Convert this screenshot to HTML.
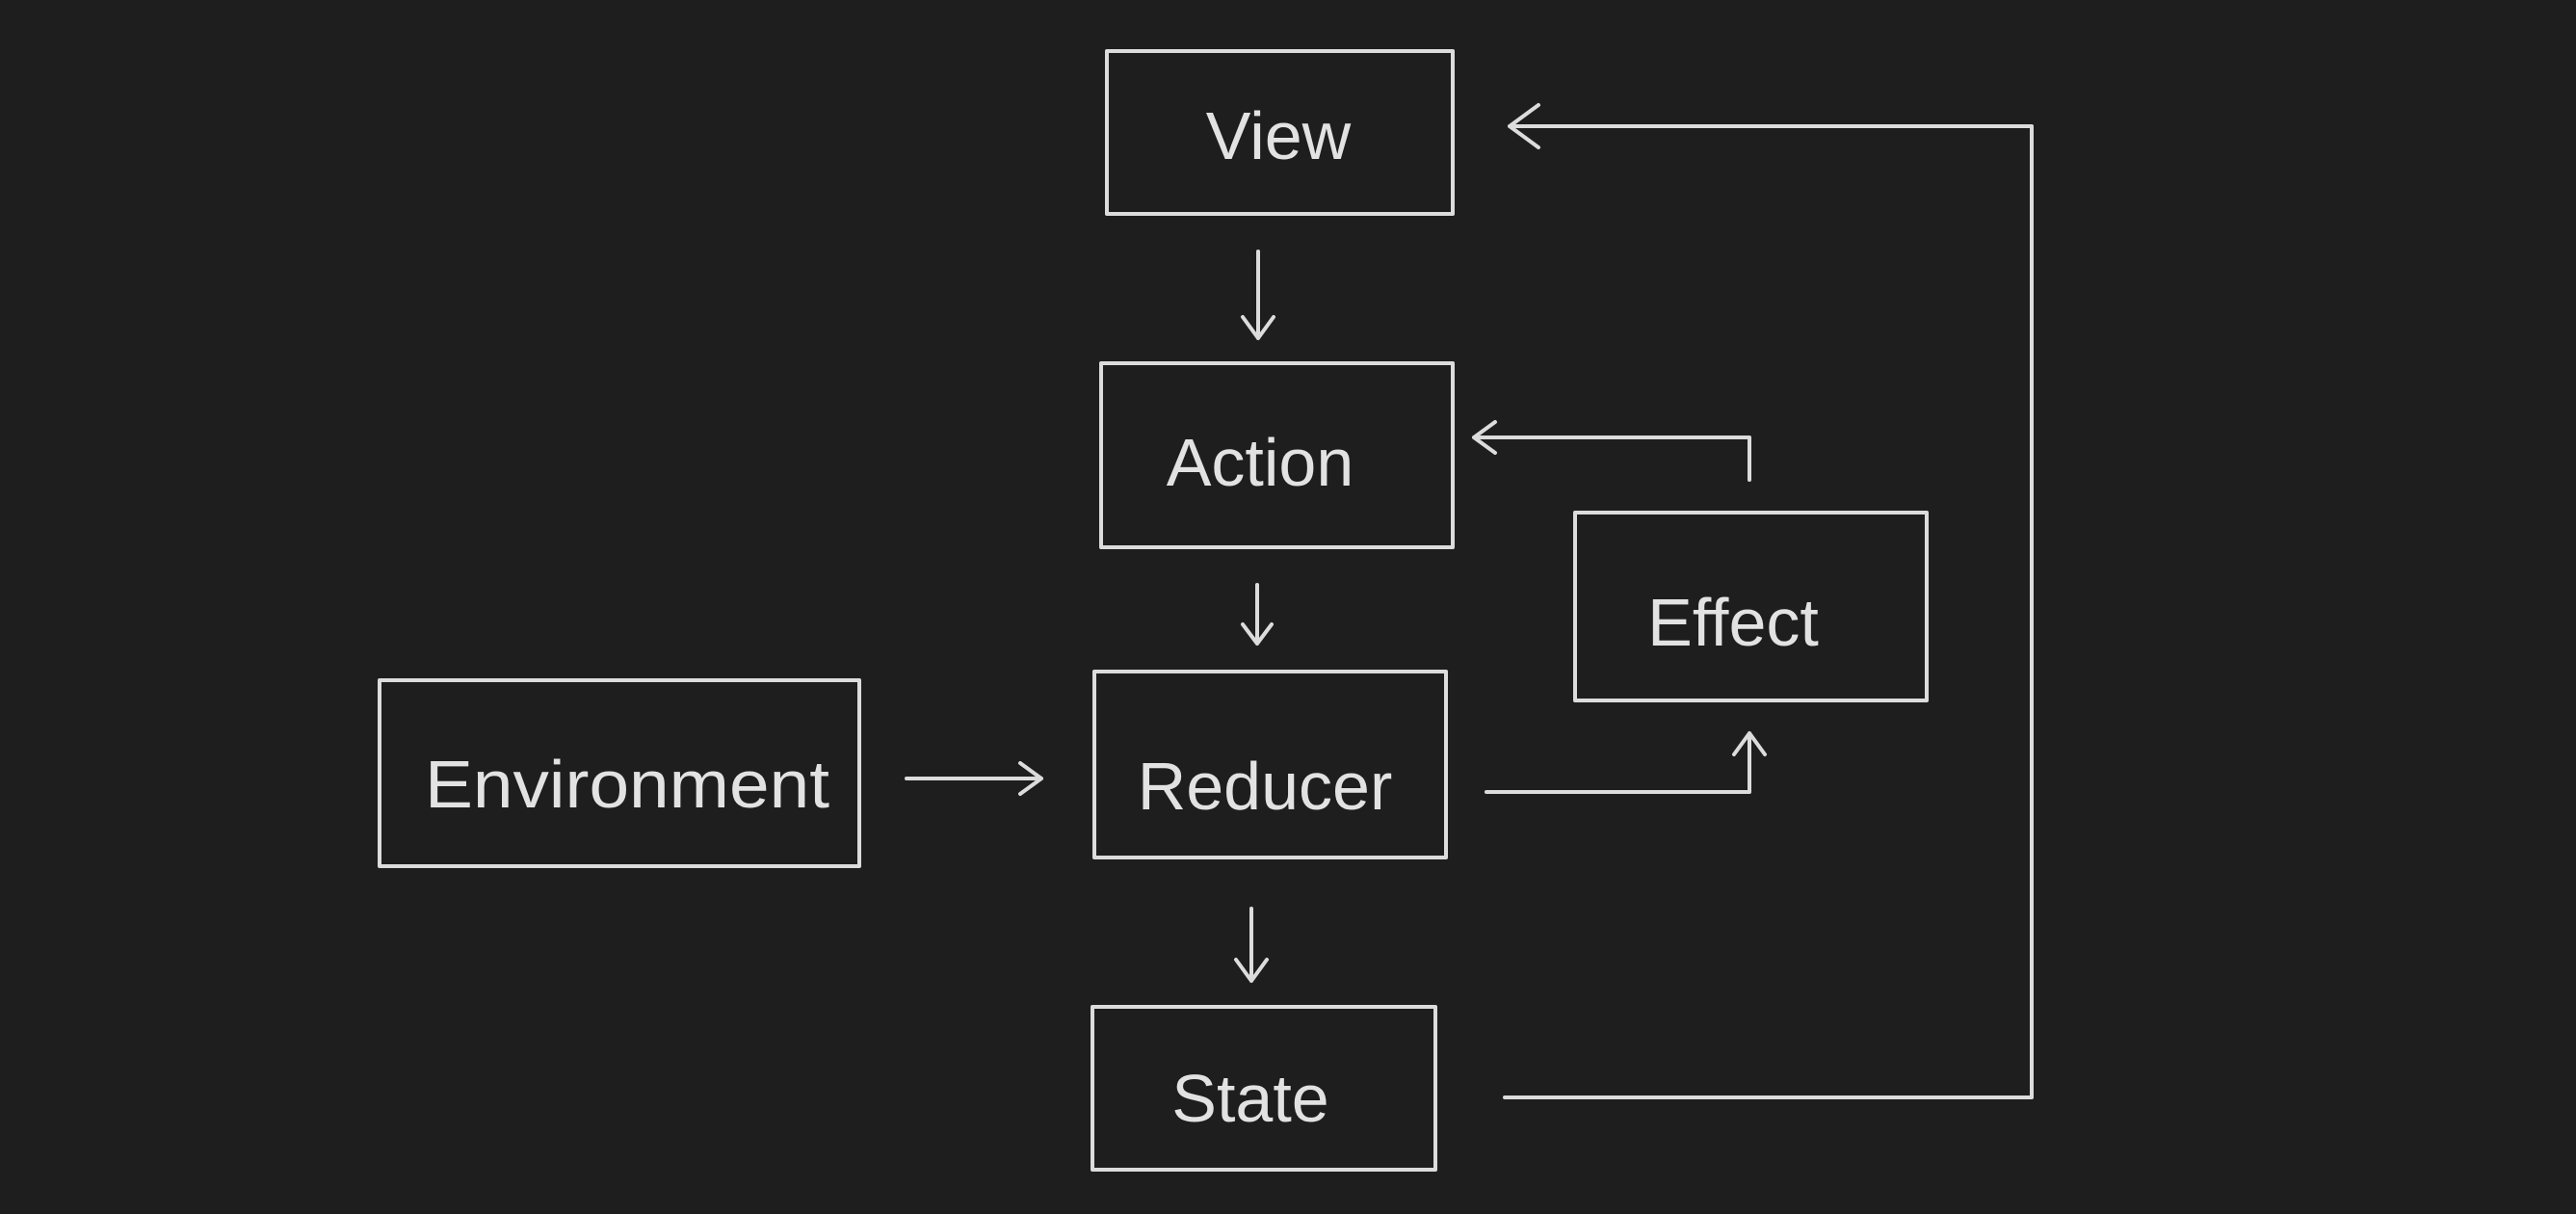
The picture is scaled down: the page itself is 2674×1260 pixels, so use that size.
<!DOCTYPE html>
<html><head><meta charset="utf-8"><style>
html,body{margin:0;padding:0;background:#1e1e1e;}
svg{display:block}
</style></head><body>
<svg width="2674" height="1260" viewBox="0 0 2674 1260" xmlns="http://www.w3.org/2000/svg">
<rect width="2674" height="1260" fill="#1e1e1e"/>
<g fill="none" stroke="#dcdcdc" stroke-width="4" stroke-linecap="round" stroke-linejoin="round">
<rect x="1149" y="53" width="359" height="169"/>
<rect x="1143" y="377" width="365" height="191"/>
<rect x="1635" y="532" width="365" height="195"/>
<rect x="394" y="706" width="498" height="193"/>
<rect x="1136" y="697" width="365" height="193"/>
<rect x="1134" y="1045" width="356" height="169"/>
<!-- View -> Action -->
<path d="M1306 261 V351 M1290 329 L1306 351 L1322 329"/>
<!-- Action -> Reducer -->
<path d="M1305 607 V668 M1290 648 L1305 668 L1320 648"/>
<!-- Reducer -> State -->
<path d="M1299 943 V1018 M1283 996 L1299 1018 L1315 996"/>
<!-- Environment -> Reducer -->
<path d="M941 808 H1081 M1059 792 L1081 808 L1059 824"/>
<!-- Reducer -> Effect -->
<path d="M1543 822 H1816 V761 M1800 783 L1816 761 L1832 783"/>
<!-- Effect -> Action -->
<path d="M1816 498 V454 H1530 M1552 438 L1530 454 L1552 470"/>
<!-- State -> View -->
<path d="M1562 1139 H2109 V131 H1567 M1597 109 L1567 131 L1597 153"/>
</g>
<g fill="#e2e2e2" font-family="Liberation Sans, sans-serif" font-size="70" text-anchor="middle">
<text x="1327" y="165">View</text>
<text x="1308" y="504">Action</text>
<text x="1799" y="670">Effect</text>
<text x="651" y="838" textLength="420" lengthAdjust="spacingAndGlyphs">Environment</text>
<text x="1313" y="840">Reducer</text>
<text x="1298" y="1164">State</text>
</g>
</svg>
</body></html>
